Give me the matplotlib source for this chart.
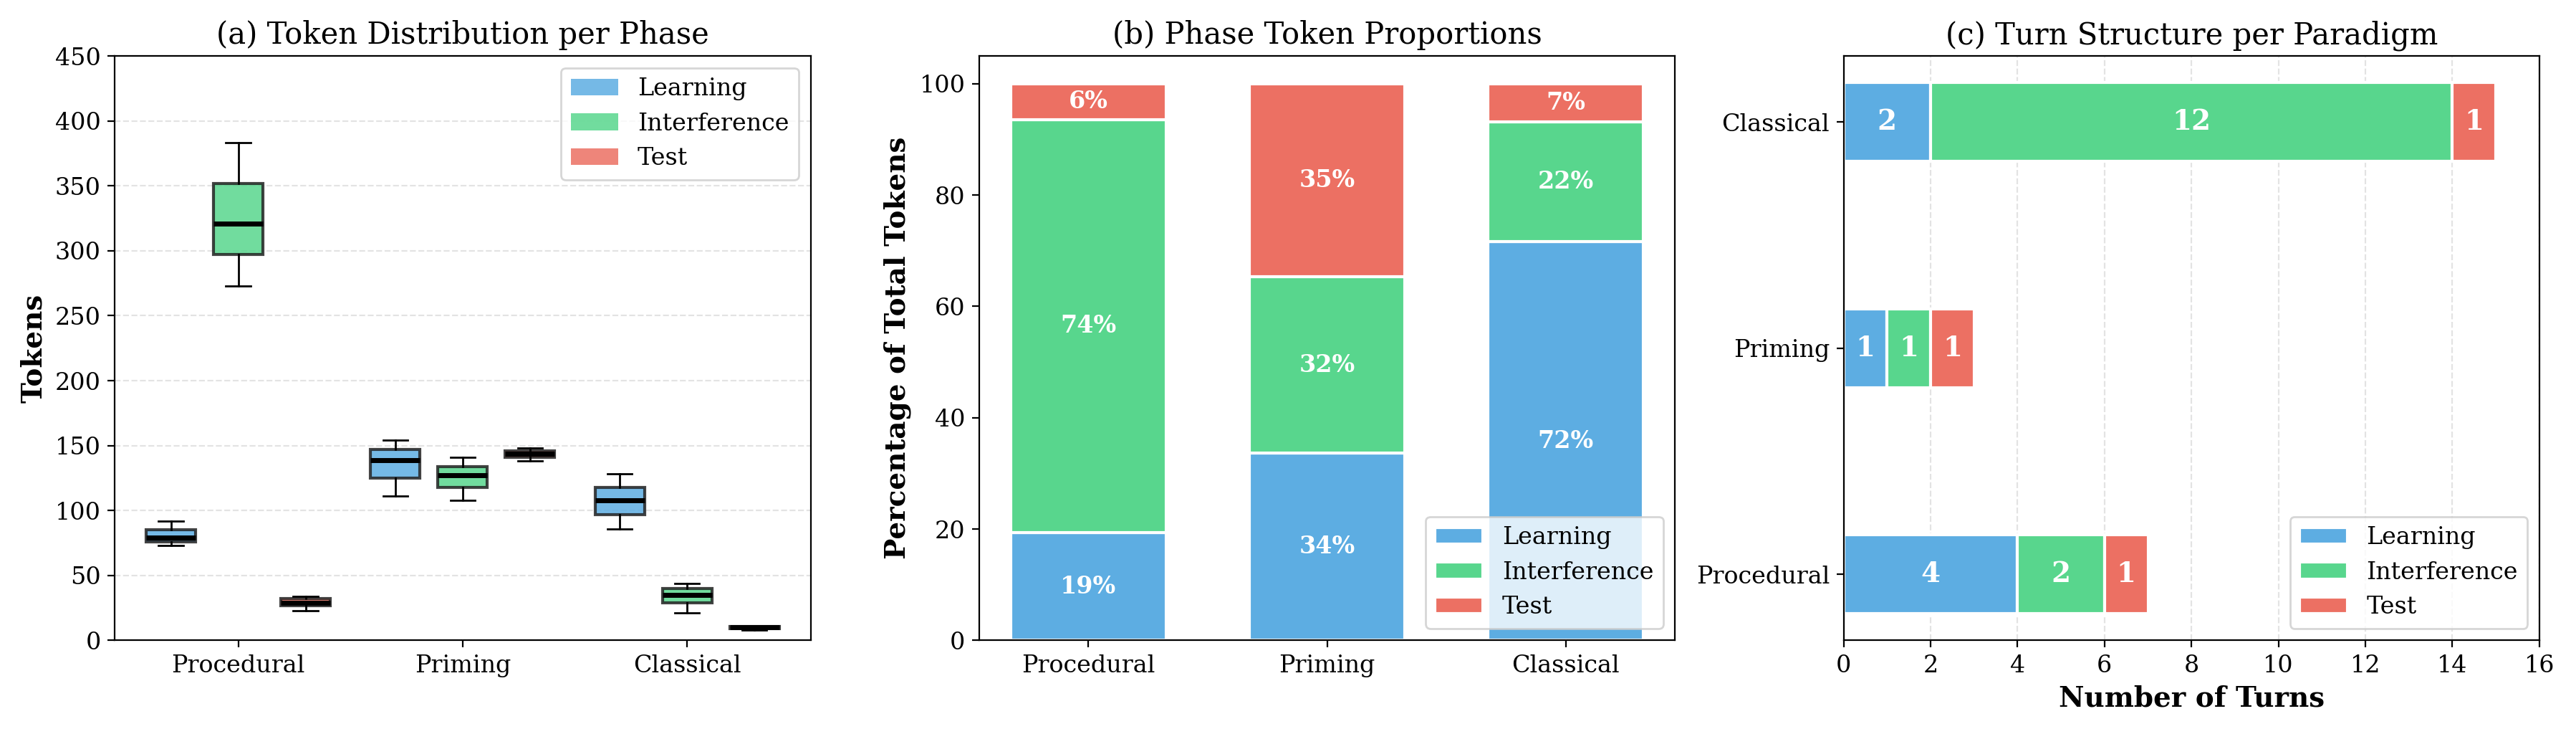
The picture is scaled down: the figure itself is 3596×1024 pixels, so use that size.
import matplotlib
matplotlib.use('Agg')
import matplotlib.pyplot as plt
import numpy as np

plt.rcParams['font.family'] = 'DejaVu Serif'

paradigms = ["Procedural", "Priming", "Classical"]
phases = ["Learning", "Interference", "Test"]
COLORS = {"Learning": "#5DADE2", "Interference": "#58D68D", "Test": "#EC7063"}

# box stats per paradigm per phase: (whislo, q1, med, q3, whishi)
box_stats = {
    "Procedural": [(73, 76, 79, 85, 92), (273, 297, 321, 352, 383), (23, 27, 29, 32, 34)],
    "Priming": [(111, 125, 139, 147, 154), (108, 118, 127, 134, 141), (138, 141, 144, 146, 148)],
    "Classical": [(86, 97, 108, 118, 128), (21, 29, 35, 40, 44), (8, 9, 10, 10.5, 11)],
}

# percentages (Learning, Interference, Test)
pct_learning = [19.4, 33.7, 71.6]
pct_interference = [74.2, 31.6, 21.6]
pct_test = [6.4, 34.7, 6.8]

# turns
turn_paradigms = ["Procedural", "Priming", "Classical"]
turns_learning = [4, 1, 2]
turns_interference = [2, 1, 12]
turns_test = [1, 1, 1]

fig, axes = plt.subplots(1, 3, figsize=(17.98, 5.12))

# (a) boxplots
ax = axes[0]
width = 0.22
for i, p in enumerate(paradigms):
    for j, ph in enumerate(phases):
        lo, q1, med, q3, hi = box_stats[p][j]
        st = [dict(whislo=lo, q1=q1, med=med, q3=q3, whishi=hi, fliers=[])]
        bp = ax.bxp(st, positions=[i + (j - 1) * 0.3], widths=width, patch_artist=True,
                    manage_ticks=False)
        for b in bp['boxes']:
            b.set_facecolor(COLORS[ph]); b.set_alpha(0.85); b.set_edgecolor('#222222'); b.set_linewidth(1.5)
        for m in bp['medians']:
            m.set_color('black'); m.set_linewidth(2.5)
for ph in phases:
    ax.bar(0, 0, color=COLORS[ph], alpha=0.85, label=ph)
ax.set_xticks(range(3))
ax.set_xticklabels(paradigms, fontsize=12)
ax.set_xlim(-0.55, 2.55)
ax.set_ylim(0, 450)
ax.set_yticks(range(0, 451, 50))
ax.tick_params(labelsize=12)
ax.set_ylabel("Tokens", fontsize=14, fontweight='bold')
ax.set_title("(a) Token Distribution per Phase", fontsize=15)
ax.yaxis.grid(True, linestyle='--', color='#dddddd', alpha=0.8)
ax.set_axisbelow(True)
ax.legend(loc='upper right', fontsize=12)

# (b) stacked percentages
ax = axes[1]
x = np.arange(3)
bottom = np.zeros(3)
for ph, vals in zip(phases, [pct_learning, pct_interference, pct_test]):
    vals = np.array(vals)
    ax.bar(x, vals, 0.65, bottom=bottom, color=COLORS[ph], edgecolor='white', linewidth=1.5, label=ph)
    for xi, b, v in zip(x, bottom, vals):
        ax.text(xi, b + v / 2, f"{v:.0f}%", ha='center', va='center', color='white',
                fontsize=12, fontweight='bold')
    bottom += vals
ax.set_xticks(x)
ax.set_xticklabels(paradigms, fontsize=12)
ax.tick_params(labelsize=12)
ax.set_ylabel("Percentage of Total Tokens", fontsize=14, fontweight='bold')
ax.set_title("(b) Phase Token Proportions", fontsize=15)
ax.legend(loc='lower right', fontsize=12)

# (c) turns
ax = axes[2]
y = np.arange(3)
left = np.zeros(3)
for ph, vals in zip(phases, [turns_learning, turns_interference, turns_test]):
    vals = np.array(vals)
    ax.barh(y, vals, 0.35, left=left, color=COLORS[ph], edgecolor='white', linewidth=1.5, label=ph)
    for yi, l, v in zip(y, left, vals):
        ax.text(l + v / 2, yi, str(v), ha='center', va='center', color='white',
                fontsize=14, fontweight='bold')
    left += vals
ax.set_yticks(y)
ax.set_yticklabels(turn_paradigms, fontsize=12)
ax.set_xlim(0, 16)
ax.set_xticks(range(0, 17, 2))
ax.tick_params(labelsize=12)
ax.set_xlabel("Number of Turns", fontsize=14, fontweight='bold')
ax.set_title("(c) Turn Structure per Paradigm", fontsize=15)
ax.xaxis.grid(True, linestyle='--', color='#dddddd', alpha=0.8)
ax.set_axisbelow(True)
ax.legend(loc='lower right', fontsize=12)

fig.tight_layout()
fig.savefig("out.png", dpi=200)
